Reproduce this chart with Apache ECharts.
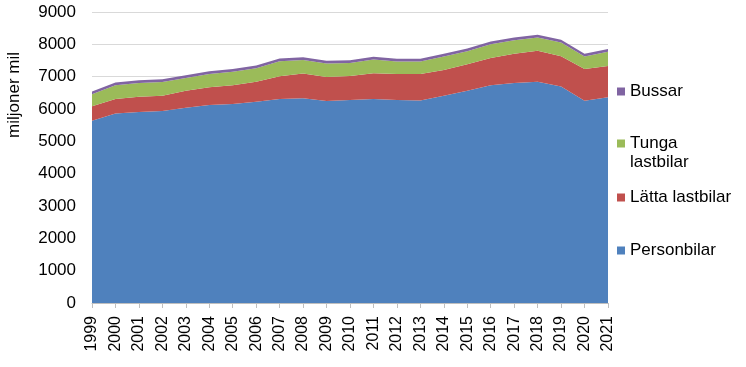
<!DOCTYPE html>
<html>
<head>
<meta charset="utf-8">
<script src="https://cdn.jsdelivr.net/npm/echarts@6/dist/echarts.min.js"></script>
<style>
html,body{margin:0;padding:0;background:#fff;}
#chart{width:746px;height:367px;}
</style>
</head>
<body>
<div id="chart"></div>
<script>
const years = ['1999','2000','2001','2002','2003','2004','2005','2006','2007','2008','2009','2010','2011','2012','2013','2014','2015','2016','2017','2018','2019','2020','2021'];
const personbilar = [5634,5863,5904,5935,6037,6121,6152,6224,6308,6329,6245,6276,6307,6276,6265,6410,6565,6733,6804,6845,6693,6255,6360];
const lattaLastbilar = [453,444,475,475,528,550,581,621,704,767,746,746,799,808,819,798,820,848,901,953,940,984,972];
const tungaLastbilar = [373,426,425,425,395,413,422,415,466,423,413,403,422,382,382,413,404,425,425,414,423,382,435];
const bussar = [85,85,85,85,85,85,85,85,85,85,85,85,85,85,85,85,85,85,85,85,85,85,85];
const yTicks = {min:0, max:9000, interval:1000};

const font = 'Liberation Sans, Arial, sans-serif';
const colors = {p:'#4F81BD', l:'#C0504D', t:'#9BBB59', b:'#8064A2'};

function mkSeries(name, data, color){
  return {
    name, type:'line', stack:'total', data,
    symbol:'none', smooth:false,
    lineStyle:{width:0, color},
    itemStyle:{color},
    areaStyle:{color, opacity:1},
    emphasis:{disabled:true}
  };
}
function mkLegend(name, top){
  return {
    data:[name], orient:'vertical', left:617, top, padding:0,
    icon:'rect', itemWidth:8, itemHeight:8, itemGap:0,
    textStyle:{fontFamily:font, fontSize:17, color:'#000', lineHeight:19},
    formatter: n => n === 'Tunga lastbilar' ? ' \nTunga\nlastbilar' : n
  };
}

const chart = echarts.init(document.getElementById('chart'), null, {renderer:'canvas'});
chart.setOption({
  animation:false,
  backgroundColor:'#fff',
  grid:{left:92, right:138, top:12, bottom:64, containLabel:false},
  legend:[
    mkLegend('Bussar', 82),
    mkLegend('Tunga lastbilar', 115),
    mkLegend('Lätta lastbilar', 188),
    mkLegend('Personbilar', 241)
  ],
  graphic:[{
    type:'text', x:14, y:95, rotation:Math.PI/2,
    style:{text:'miljoner mil', font:'17px ' + font, fill:'#000', textAlign:'center', textVerticalAlign:'middle'}
  }],
  xAxis:{
    type:'category', data:years, boundaryGap:false,
    axisLine:{lineStyle:{color:'#BFBFBF', width:1}},
    axisTick:{show:true, alignWithLabel:true, length:5, lineStyle:{color:'#BFBFBF'}},
    axisLabel:{rotate:90, interval:0, fontFamily:font, fontSize:16, color:'#000', margin:13}
  },
  yAxis:{
    type:'value', min:yTicks.min, max:yTicks.max, interval:yTicks.interval,
    axisLine:{show:false}, axisTick:{show:false},
    splitLine:{lineStyle:{color:'#D9D9D9', width:1}},
    axisLabel:{fontFamily:font, fontSize:17, color:'#000', margin:16, formatter: v => String(v)}
  },
  series:[
    mkSeries('Personbilar', personbilar, colors.p),
    mkSeries('Lätta lastbilar', lattaLastbilar, colors.l),
    mkSeries('Tunga lastbilar', tungaLastbilar, colors.t),
    mkSeries('Bussar', bussar, colors.b)
  ]
});
</script>
</body>
</html>
